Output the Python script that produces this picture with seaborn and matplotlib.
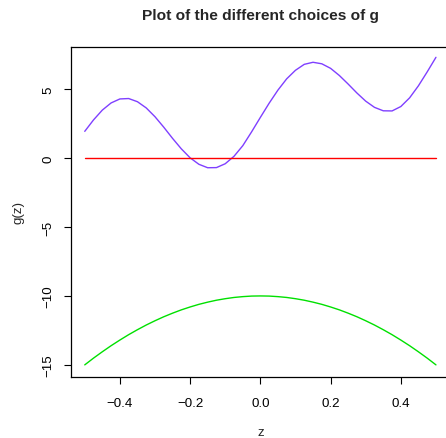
import numpy as np
import pandas as pd
import matplotlib
matplotlib.use("Agg")
import matplotlib.pyplot as plt
import seaborn as sns

# ---- data ----
z = [-0.5, -0.475, -0.45, -0.425, -0.4, -0.375, -0.35, -0.325, -0.3, -0.275,
     -0.25, -0.225, -0.2, -0.175, -0.15, -0.125, -0.1, -0.075, -0.05, -0.025,
     0.0, 0.025, 0.05, 0.075, 0.1, 0.125, 0.15, 0.175, 0.2, 0.225,
     0.25, 0.275, 0.3, 0.325, 0.35, 0.375, 0.4, 0.425, 0.45, 0.475, 0.5]

g_purple = [1.94, 2.77, 3.48, 4.00, 4.29, 4.32, 4.09, 3.64, 3.00, 2.24,
            1.43, 0.67, 0.02, -0.45, -0.70, -0.69, -0.41, 0.13, 0.90, 1.90,
            2.95, 3.98, 4.93, 5.75, 6.37, 6.80, 6.95, 6.84, 6.51, 5.99,
            5.37, 4.72, 4.13, 3.68, 3.43, 3.42, 3.74, 4.37, 5.24, 6.25, 7.31]

g_red = [0.0] * 41

g_green = [-15.0, -14.51, -14.05, -13.61, -13.2, -12.81, -12.45, -12.11, -11.8, -11.51,
           -11.25, -11.01, -10.8, -10.61, -10.45, -10.31, -10.2, -10.11, -10.05, -10.01,
           -10.0, -10.01, -10.05, -10.11, -10.2, -10.31, -10.45, -10.61, -10.8, -11.01,
           -11.25, -11.51, -11.8, -12.11, -12.45, -12.81, -13.2, -13.61, -14.05, -14.51, -15.0]

x_ticks = [-0.4, -0.2, 0.0, 0.2, 0.4]
x_tick_labels = ["\u22120.4", "\u22120.2", "0.0", "0.2", "0.4"]
y_ticks = [-15, -10, -5, 0, 5]
y_tick_labels = ["\u221215", "\u221210", "\u22125", "0", "5"]

df = pd.DataFrame({"z": z * 3,
                   "g": g_purple + g_red + g_green,
                   "series": ["purple"] * 41 + ["red"] * 41 + ["green"] * 41})
palette = {"purple": "#7F3FFF", "red": "#FF0000", "green": "#00E000"}

sns.set_style("white")
plt.rcParams["font.family"] = ["Liberation Sans", "DejaVu Sans"]

W, H = 446, 439
fig = plt.figure(figsize=(W / 100, H / 100), dpi=100)
left_px, right_px, top_px, bot_px = 70.7, 450.0, 47.7, 378.0
ax = fig.add_axes([left_px / W, 1 - bot_px / H, (right_px - left_px) / W, (bot_px - top_px) / H])

sns.lineplot(data=df, x="z", y="g", hue="series", palette=palette, ax=ax,
             legend=False, linewidth=1.0, sort=False, estimator=None)

ax.set_xlim(-0.54, 0.54)
ax.set_ylim(-15.88, 8.08)
ax.set_xticks(x_ticks)
ax.set_xticklabels(x_tick_labels)
ax.set_yticks(y_ticks)
ax.set_yticklabels(y_tick_labels, rotation=90, va="center")

for s in ax.spines.values():
    s.set_visible(True)
    s.set_color("black")
    s.set_linewidth(0.9)

fs = 9.6
ax.tick_params(axis="both", direction="out", length=5.0, width=0.8, colors="black",
               labelsize=fs, bottom=True, left=True)
ax.tick_params(axis="x", pad=9.6)
ax.tick_params(axis="y", pad=6.6)

ax.set_xlabel("z", fontsize=fs, va="center")
ax.xaxis.set_label_coords(0.5, (bot_px - 433.5) / (bot_px - top_px))
ax.set_ylabel("g(z)", fontsize=fs, rotation=90, va="center", ha="center")
ax.yaxis.set_label_coords((18.3 - left_px) / (right_px - left_px), 0.5)

ax.set_title("Plot of the different choices of g", fontsize=11.15, fontweight="bold",
             va="center", pad=0, y=1 + (top_px - 16.0) / (bot_px - top_px),
             x=(260.3 - left_px) / (right_px - left_px))

fig.savefig("out.png", dpi=100)
